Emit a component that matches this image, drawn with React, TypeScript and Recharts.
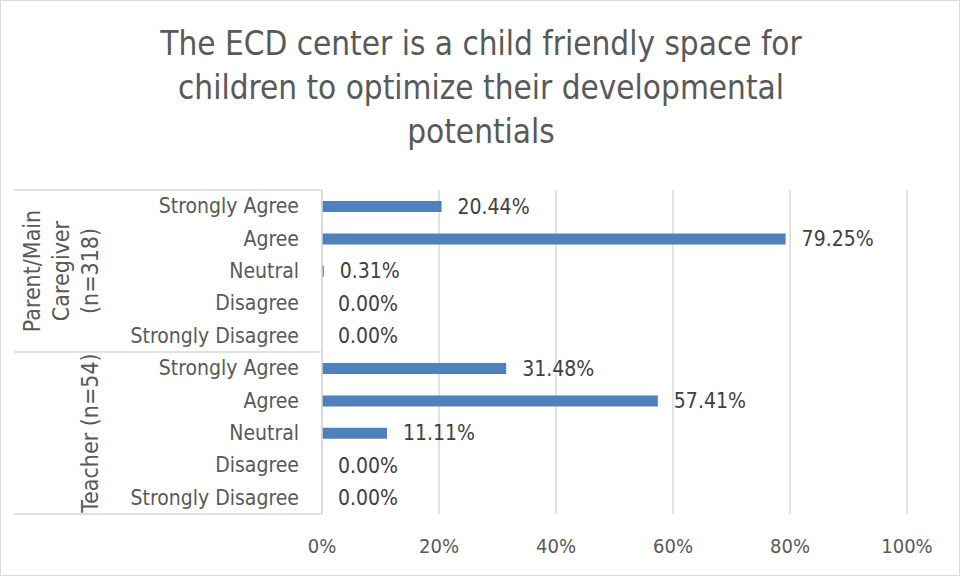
import React from "react";
import { BarChart, Bar, XAxis, YAxis, CartesianGrid, LabelList } from "recharts";

const categories = ["Strongly Agree", "Agree", "Neutral", "Disagree", "Strongly Disagree"];
const groupLabels = [["Parent/Main", "Caregiver", "(n=318)"], ["Teacher (n=54)"]];
const parentValues = [20.44, 79.25, 0.31, 0, 0];
const teacherValues = [31.48, 57.41, 11.11, 0, 0];
const xTicks = [0, 20, 40, 60, 80, 100];
const titleLines = [
  "The ECD center is a child friendly space for",
  "children to optimize their developmental",
  "potentials",
];

const FONT = "'DejaVu Sans Condensed', 'Liberation Sans Narrow', sans-serif";
const W = 960;
const H = 576;
const MARGIN = { top: 190, right: 53, bottom: 22, left: 14 };
const X_AXIS_H = 40;
const Y_AXIS_W = 308;
const TICK_MARGIN = 23;
const PLOT_H = H - MARGIN.top - MARGIN.bottom - X_AXIS_H;
const LABEL_SIZE = 21;
const GROUP_SIZE = 23;

const groupValues = [parentValues, teacherValues];
const data = groupValues.flatMap((vals, g) =>
  categories.map((c, i) => ({ id: `${g}-${c}`, label: c, group: g, pos: i, value: vals[i] }))
);

const HALF_BAND = PLOT_H / data.length / 2;
const LINE_GAP = 29;

const CategoryTick = (props: any) => {
  const { x, y, index } = props;
  const row = data[index];
  if (!row) return null;
  const axisRight = x + TICK_MARGIN;
  const axisLeft = axisRight - Y_AXIS_W;
  const lines = groupLabels[row.group];
  const lastLineX = x - 209;
  const n = lines.length;
  const midPos = Math.floor(categories.length / 2);
  return (
    <g>
      <text
        x={x}
        y={y}
        textAnchor="end"
        dominantBaseline="central"
        fill="#595959"
        fontSize={LABEL_SIZE}
        fontFamily={FONT}
      >
        {row.label}
      </text>
      {row.pos === 0 && (
        <line x1={axisLeft} x2={axisRight} y1={y - HALF_BAND} y2={y - HALF_BAND} stroke="#d9d9d9" strokeWidth={1.5} />
      )}
      {index === data.length - 1 && (
        <line x1={axisLeft} x2={axisRight} y1={y + HALF_BAND} y2={y + HALF_BAND} stroke="#d9d9d9" strokeWidth={1.5} />
      )}
      {row.pos === midPos &&
        lines.map((ln, i) => {
          const cx = lastLineX - (n - 1 - i) * LINE_GAP;
          return (
            <text
              key={i}
              x={cx}
              y={y}
              transform={`rotate(-90, ${cx}, ${y})`}
              textAnchor="middle"
              dominantBaseline="central"
              fill="#595959"
              fontSize={GROUP_SIZE}
              fontFamily={FONT}
            >
              {ln}
            </text>
          );
        })}
    </g>
  );
};

const ValueLabel = (props: any) => {
  const { x, y, width, height, value } = props;
  if (value === undefined || value === null) return null;
  return (
    <text
      x={Number(x) + Number(width || 0) + 16}
      y={Number(y) + Number(height) / 2}
      textAnchor="start"
      dominantBaseline="central"
      fill="#404040"
      fontSize={LABEL_SIZE}
      fontFamily={FONT}
    >
      {`${Number(value).toFixed(2)}%`}
    </text>
  );
};

export default function App() {
  return (
    <div
      style={{
        position: "absolute",
        left: 0,
        top: 0,
        width: W,
        height: H,
        background: "#fff",
        boxSizing: "border-box",
        border: "1.5px solid #d9d9d9",
      }}
    >
      <div
        style={{
          position: "absolute",
          left: 0,
          top: 21,
          width: W,
          textAlign: "center",
          fontFamily: FONT,
          fontSize: 33,
          lineHeight: "44px",
          color: "#595959",
        }}
      >
        {titleLines.map((t, i) => (
          <div key={i}>{t}</div>
        ))}
      </div>
      <div style={{ position: "absolute", left: -1.5, top: -1.5 }}>
        <BarChart width={W} height={H} data={data} layout="vertical" margin={MARGIN}>
          <CartesianGrid horizontal={false} vertical={true} stroke="#d9d9d9" strokeWidth={1.5} />
          <XAxis
            type="number"
            domain={[0, 100]}
            ticks={xTicks}
            tickFormatter={(v: number) => `${v}%`}
            axisLine={false}
            tickLine={false}
            tickSize={0}
            tickMargin={25}
            height={X_AXIS_H}
            tick={{ fill: "#595959", fontSize: 20, fontFamily: FONT }}
            interval={0}
          />
          <YAxis
            type="category"
            dataKey="id"
            width={Y_AXIS_W}
            axisLine={{ stroke: "#d9d9d9", strokeWidth: 1.5 }}
            tickLine={false}
            tickSize={0}
            tickMargin={TICK_MARGIN}
            tick={<CategoryTick />}
            interval={0}
          />
          <Bar
            dataKey="value"
            fill="#4f81bd"
            barSize={11}
            minPointSize={(v: number) => (v === 0 ? 0.01 : 0)}
            isAnimationActive={false}
          >
            <LabelList dataKey="value" content={<ValueLabel />} />
          </Bar>
        </BarChart>
      </div>
    </div>
  );
}
